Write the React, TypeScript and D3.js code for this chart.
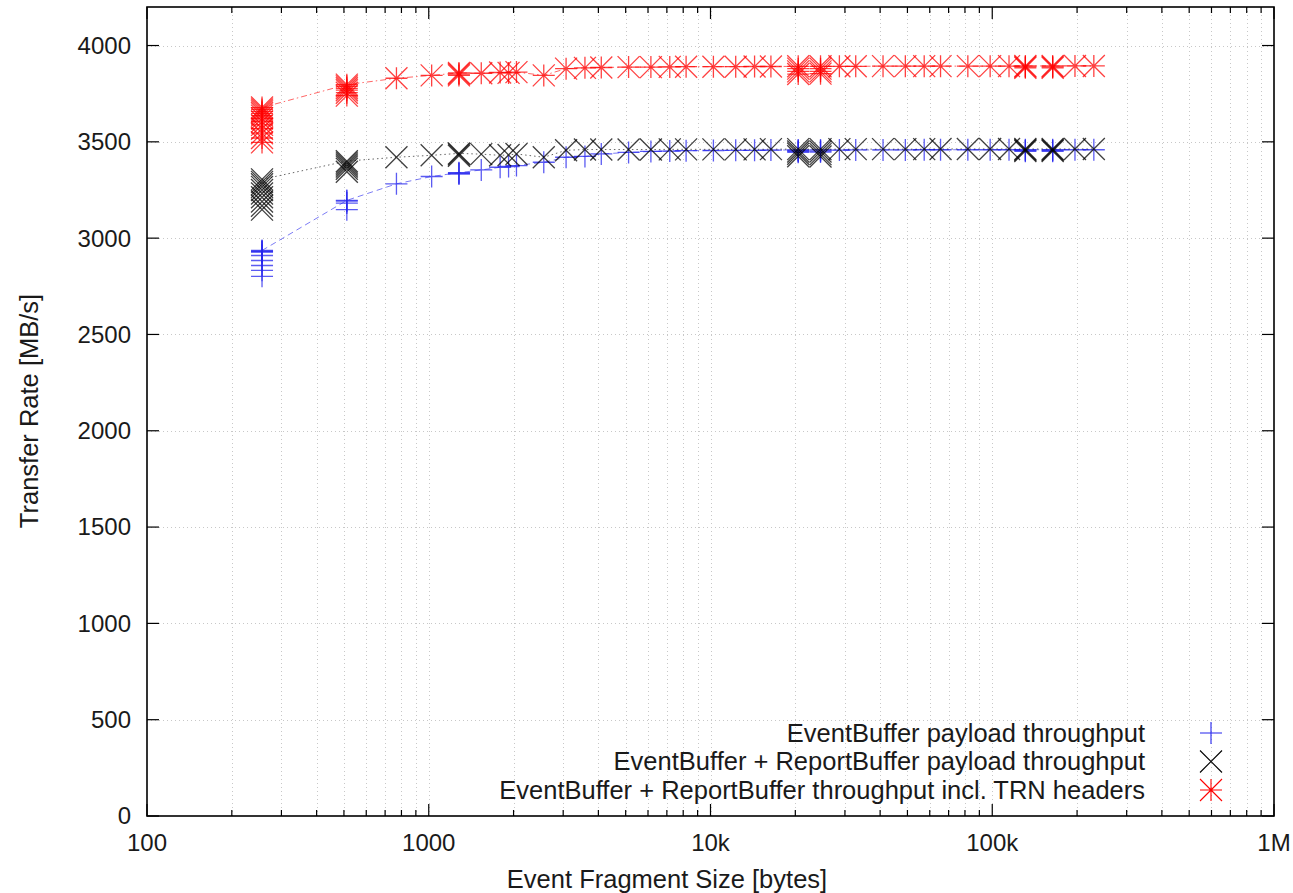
import React, { useEffect, useRef } from "react";
import * as d3 from "d3";

// fragment sizes in bytes (x axis)
const fragmentSizes = [
  256, 512, 768, 1024, 1280, 1536, 1792, 1920, 2048, 2560, 3072, 3584, 4096,
  5120, 6144, 7168, 8192, 10240, 12288, 14336, 16384, 20480, 24576, 28672,
  32768, 40960, 49152, 57344, 65536, 81920, 98304, 114688, 131072, 163840,
  196608, 229376,
];

// repeated measurements per fragment size, MB/s
const ebPayload = [
  [2936, 2933, 2930, 2927, 2910, 2884, 2858, 2833, 2802],
  [3196, 3192, 3182, 3148],
  [3282], [3320], [3340, 3337, 3333], [3354], [3368], [3372], [3377],
  [3394], [3420], [3424], [3437], [3445], [3450], [3452], [3454], [3455],
  [3456], [3456], [3457],
  [3458, 3454, 3450, 3446],
  [3458, 3452, 3447],
  [3457], [3458], [3458], [3458], [3459], [3459], [3459], [3459], [3459],
  [3459, 3455, 3451],
  [3459, 3455, 3451],
  [3459], [3459],
];

const ebRbPayload = [
  [3305, 3292, 3280, 3266, 3250, 3232, 3212, 3190, 3168, 3148],
  [3400, 3392, 3382, 3372, 3360, 3345],
  [3420], [3430], [3435, 3428, 3440], [3436], [3430], [3432], [3437],
  [3420], [3456], [3460], [3460], [3460], [3460], [3461], [3461], [3461],
  [3461], [3461], [3462],
  [3462, 3450, 3438, 3425],
  [3462, 3450, 3436, 3424],
  [3462], [3462], [3462], [3462], [3462], [3463], [3463], [3463], [3463],
  [3463, 3458, 3452],
  [3463, 3458, 3452],
  [3463], [3463],
];

const ebRbTrn = [
  [3678, 3668, 3658, 3648, 3636, 3622, 3606, 3588, 3568, 3545, 3520, 3497],
  [3797, 3788, 3778, 3768, 3755, 3740],
  [3830], [3845], [3852, 3845, 3858], [3856], [3860], [3858], [3862],
  [3845], [3880], [3884], [3886], [3888], [3888], [3889], [3890], [3890],
  [3890], [3891], [3891],
  [3892, 3880, 3866, 3852],
  [3892, 3880, 3866, 3854],
  [3892], [3892], [3893], [3893], [3893], [3893], [3893], [3893], [3893],
  [3894, 3889, 3884],
  [3894, 3889, 3884],
  [3894], [3894],
];

const seriesNames = [
  "EventBuffer payload throughput",
  "EventBuffer + ReportBuffer payload throughput",
  "EventBuffer + ReportBuffer throughput incl. TRN headers",
];

const xTickValues = [100, 1000, 10000, 100000, 1000000];
const xTickLabels = ["100", "1000", "10k", "100k", "1M"];
const yTickValues = [0, 500, 1000, 1500, 2000, 2500, 3000, 3500, 4000];

const W = 1293, H = 893;
const margin = { left: 147, right: 1274, top: 7, bottom: 816 };
const FONT = "'Liberation Sans', Arial, sans-serif";

const h = 11;
const plusPath = `M${-h},0H${h}M0,${-h}V${h}`;
const crossPath = `M${-h},${-h}L${h},${h}M${-h},${h}L${h},${-h}`;
const starPath = plusPath + crossPath;

export default function App() {
  const ref = useRef<SVGSVGElement>(null);

  useEffect(() => {
    const svg = d3.select(ref.current);
    svg.selectAll("*").remove();

    const x = d3.scaleLog().domain([100, 1e6]).range([margin.left, margin.right]);
    const y = d3.scaleLinear().domain([0, 4200]).range([margin.bottom, margin.top]);

    const allX = x.ticks();
    const minorX = allX.filter((v) => !xTickValues.includes(v));

    // grid
    const grid = svg.append("g")
      .attr("stroke", "#c8c8c8")
      .attr("stroke-width", 1)
      .attr("stroke-dasharray", "1,3");
    grid.selectAll("line.gx")
      .data(allX.filter((v) => v > 100 && v < 1e6))
      .enter().append("line")
      .attr("x1", (d) => Math.round(x(d)) + 0.5)
      .attr("x2", (d) => Math.round(x(d)) + 0.5)
      .attr("y1", margin.top)
      .attr("y2", margin.bottom);
    grid.selectAll("line.gy")
      .data(yTickValues.filter((v) => v > 0))
      .enter().append("line")
      .attr("x1", margin.left)
      .attr("x2", margin.right)
      .attr("y1", (d) => Math.round(y(d)) + 0.5)
      .attr("y2", (d) => Math.round(y(d)) + 0.5);

    // ticks
    const ticks = svg.append("g").attr("stroke", "#000").attr("stroke-width", 1.2);
    const xt = [
      ...xTickValues.map((v) => ({ v, len: 12 })),
      ...minorX.map((v) => ({ v, len: 6 })),
    ];
    xt.forEach((t) => {
      const px = x(t.v);
      ticks.append("line").attr("x1", px).attr("x2", px)
        .attr("y1", margin.bottom).attr("y2", margin.bottom - t.len);
      ticks.append("line").attr("x1", px).attr("x2", px)
        .attr("y1", margin.top).attr("y2", margin.top + t.len);
    });
    yTickValues.forEach((v) => {
      const py = y(v);
      ticks.append("line").attr("x1", margin.left).attr("x2", margin.left + 12)
        .attr("y1", py).attr("y2", py);
      ticks.append("line").attr("x1", margin.right).attr("x2", margin.right - 12)
        .attr("y1", py).attr("y2", py);
    });

    // border
    svg.append("rect")
      .attr("x", margin.left).attr("y", margin.top)
      .attr("width", margin.right - margin.left)
      .attr("height", margin.bottom - margin.top)
      .attr("fill", "none").attr("stroke", "#000").attr("stroke-width", 1.6);

    // tick labels
    const labels = svg.append("g")
      .attr("font-family", FONT).attr("font-size", 24).attr("fill", "#1a1a1a");
    labels.selectAll("text.yl").data(yTickValues).enter().append("text")
      .attr("x", margin.left - 16)
      .attr("y", (d) => y(d))
      .attr("dy", "0.35em")
      .attr("text-anchor", "end")
      .text((d) => d);
    labels.selectAll("text.xl").data(xTickValues).enter().append("text")
      .attr("x", (d) => x(d))
      .attr("y", margin.bottom + 35)
      .attr("text-anchor", "middle")
      .text((d, i) => xTickLabels[i]);

    labels.append("text")
      .attr("transform", "translate(38,411) rotate(-90)")
      .attr("text-anchor", "middle")
      .attr("font-size", 25.5)
      .text("Transfer Rate [MB/s]");
    labels.append("text")
      .attr("x", 667).attr("y", 888)
      .attr("text-anchor", "middle")
      .attr("font-size", 25.5)
      .text("Event Fragment Size [bytes]");

    const series = [
      { values: ebPayload, color: "#2424ee", dash: "6,4", marker: plusPath },
      { values: ebRbPayload, color: "#000000", dash: "1.5,3", marker: crossPath },
      { values: ebRbTrn, color: "#ff0000", dash: "6,3,1.5,3", marker: starPath },
    ];

    const line = d3.line<number[]>()
      .x((d, i) => x(fragmentSizes[i]))
      .y((d) => y(d3.max(d) as number));

    series.forEach((s) => {
      svg.append("path")
        .datum(s.values)
        .attr("d", line)
        .attr("fill", "none")
        .attr("stroke", s.color)
        .attr("stroke-opacity", 0.6)
        .attr("stroke-width", 1)
        .attr("stroke-dasharray", s.dash);

      const pts = s.values.flatMap((vals, i) =>
        vals.map((v) => ({ size: fragmentSizes[i], v }))
      );
      svg.append("g").selectAll("path").data(pts).enter().append("path")
        .attr("transform", (d) => `translate(${x(d.size)},${y(d.v)})`)
        .attr("d", s.marker)
        .attr("fill", "none")
        .attr("stroke", s.color)
        .attr("stroke-opacity", 0.75)
        .attr("stroke-width", 1.3);
    });

    // legend
    const legend = svg.append("g")
      .attr("font-family", FONT).attr("font-size", 25.5).attr("fill", "#1a1a1a");
    series.forEach((s, i) => {
      const ly = 733 + i * 28.5;
      legend.append("text")
        .attr("x", 1145).attr("y", ly)
        .attr("dy", "0.35em")
        .attr("text-anchor", "end")
        .text(seriesNames[i]);
      legend.append("path")
        .attr("transform", `translate(1211,${ly})`)
        .attr("d", s.marker)
        .attr("fill", "none")
        .attr("stroke", s.color)
        .attr("stroke-width", 1.1);
    });
  }, []);

  return (
    <svg
      ref={ref}
      width={W}
      height={H}
      style={{ position: "absolute", left: 0, top: 0, background: "#fff" }}
    />
  );
}
